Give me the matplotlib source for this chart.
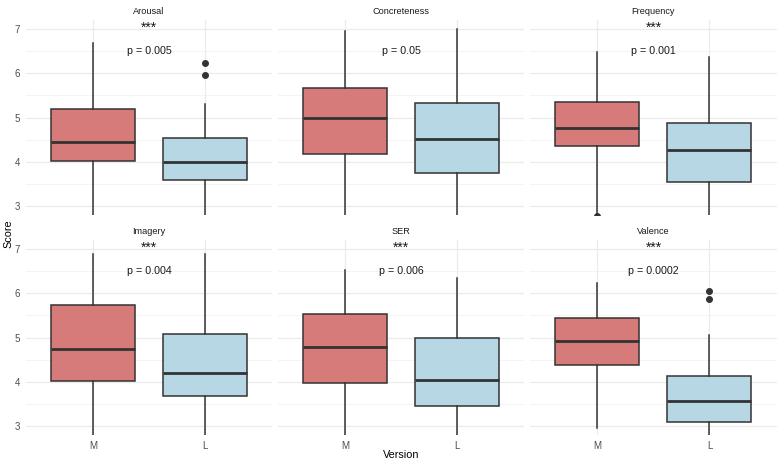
import matplotlib.pyplot as plt
from matplotlib.ticker import MultipleLocator

plt.rcParams['font.family'] = ['Liberation Sans', 'DejaVu Sans']

# Daten: whislo, q1, med, q3, whishi, Ausreißer
panels = ['Arousal', 'Concreteness', 'Frequency', 'Imagery', 'SER', 'Valence']
versions = ['M', 'L']

m_stats = [
    [2.5, 4.01, 4.45, 5.20, 6.69],
    [2.5, 4.17, 4.98, 5.67, 6.95],
    [2.5, 4.35, 4.77, 5.35, 6.48],
    [2.5, 4.01, 4.74, 5.74, 6.89],
    [2.5, 3.97, 4.79, 5.52, 6.53],
    [2.96, 4.39, 4.93, 5.45, 6.22],
]
l_stats = [
    [2.5, 3.59, 4.00, 4.53, 5.31],
    [2.5, 3.74, 4.51, 5.32, 7.00],
    [2.5, 3.54, 4.26, 4.87, 6.36],
    [2.5, 3.67, 4.21, 5.08, 6.89],
    [2.5, 3.45, 4.05, 4.98, 6.35],
    [2.6, 3.10, 3.57, 4.13, 5.05],
]
m_outliers = [[], [], [2.77], [], [], []]
l_outliers = [[6.24, 5.96], [], [], [], [], [6.05, 5.86]]

p_labels = ['p = 0.005', 'p = 0.05', 'p = 0.001', 'p = 0.004', 'p = 0.006', 'p = 0.0002']
stars = ['***', '', '***', '***', '***', '***']

fill_m = '#D67B7A'
fill_l = '#B8D7E4'
edge = '#333333'

fig = plt.figure(figsize=(7.79, 4.62), dpi=100)

lefts = [0.0331, 0.3566, 0.6807]
bottoms = [0.5346, 0.0584]
w, h = 0.3163, 0.4221

for i, name in enumerate(panels):
    r, c = divmod(i, 3)
    ax = fig.add_axes([lefts[c], bottoms[r], w, h])

    stats = []
    for s, outl in [(m_stats[i], m_outliers[i]), (l_stats[i], l_outliers[i])]:
        stats.append({'whislo': s[0], 'q1': s[1], 'med': s[2], 'q3': s[3],
                      'whishi': s[4], 'fliers': outl})
    bp = ax.bxp(stats, positions=[1, 2], widths=0.75, patch_artist=True,
                showcaps=False,
                boxprops=dict(edgecolor=edge, linewidth=1.1),
                medianprops=dict(color=edge, linewidth=2.0),
                whiskerprops=dict(color=edge, linewidth=1.1),
                flierprops=dict(marker='o', markerfacecolor=edge, markeredgecolor=edge,
                                markersize=4))
    for patch, col in zip(bp['boxes'], [fill_m, fill_l]):
        patch.set_facecolor(col)

    ax.set_xlim(0.4, 2.6)
    ax.set_ylim(2.8, 7.2)
    ax.yaxis.set_major_locator(MultipleLocator(1))
    ax.yaxis.set_minor_locator(MultipleLocator(0.5))
    ax.set_xticks([1, 2])
    ax.grid(True, which='major', color='#EBEBEB', linewidth=0.9, zorder=0)
    ax.grid(True, which='minor', axis='y', color='#F2F2F2', linewidth=0.6, zorder=0)
    ax.set_axisbelow(True)
    for sp in ax.spines.values():
        sp.set_visible(False)
    ax.tick_params(which='both', length=0, labelsize=7, labelcolor='#4D4D4D', pad=4)
    if r == 0:
        ax.set_xticklabels([])
    else:
        ax.set_xticklabels(versions)
    if c != 0:
        ax.set_yticklabels([])

    ax.text(1.5, 7.02, stars[i], ha='center', va='center', fontsize=10, color='#1A1A1A')
    ax.text(1.5, 6.5, p_labels[i], ha='center', va='center', fontsize=7.7, color='#1A1A1A')
    ax.set_title(name, fontsize=6.6, color='#1A1A1A', pad=4)

fig.text(0.011, 0.495, 'Score', rotation=90, ha='center', va='center', fontsize=7.8)
fig.text(0.515, 0.016, 'Version', ha='center', va='center', fontsize=7.8)

fig.savefig('out.png', dpi=100, facecolor='white')
